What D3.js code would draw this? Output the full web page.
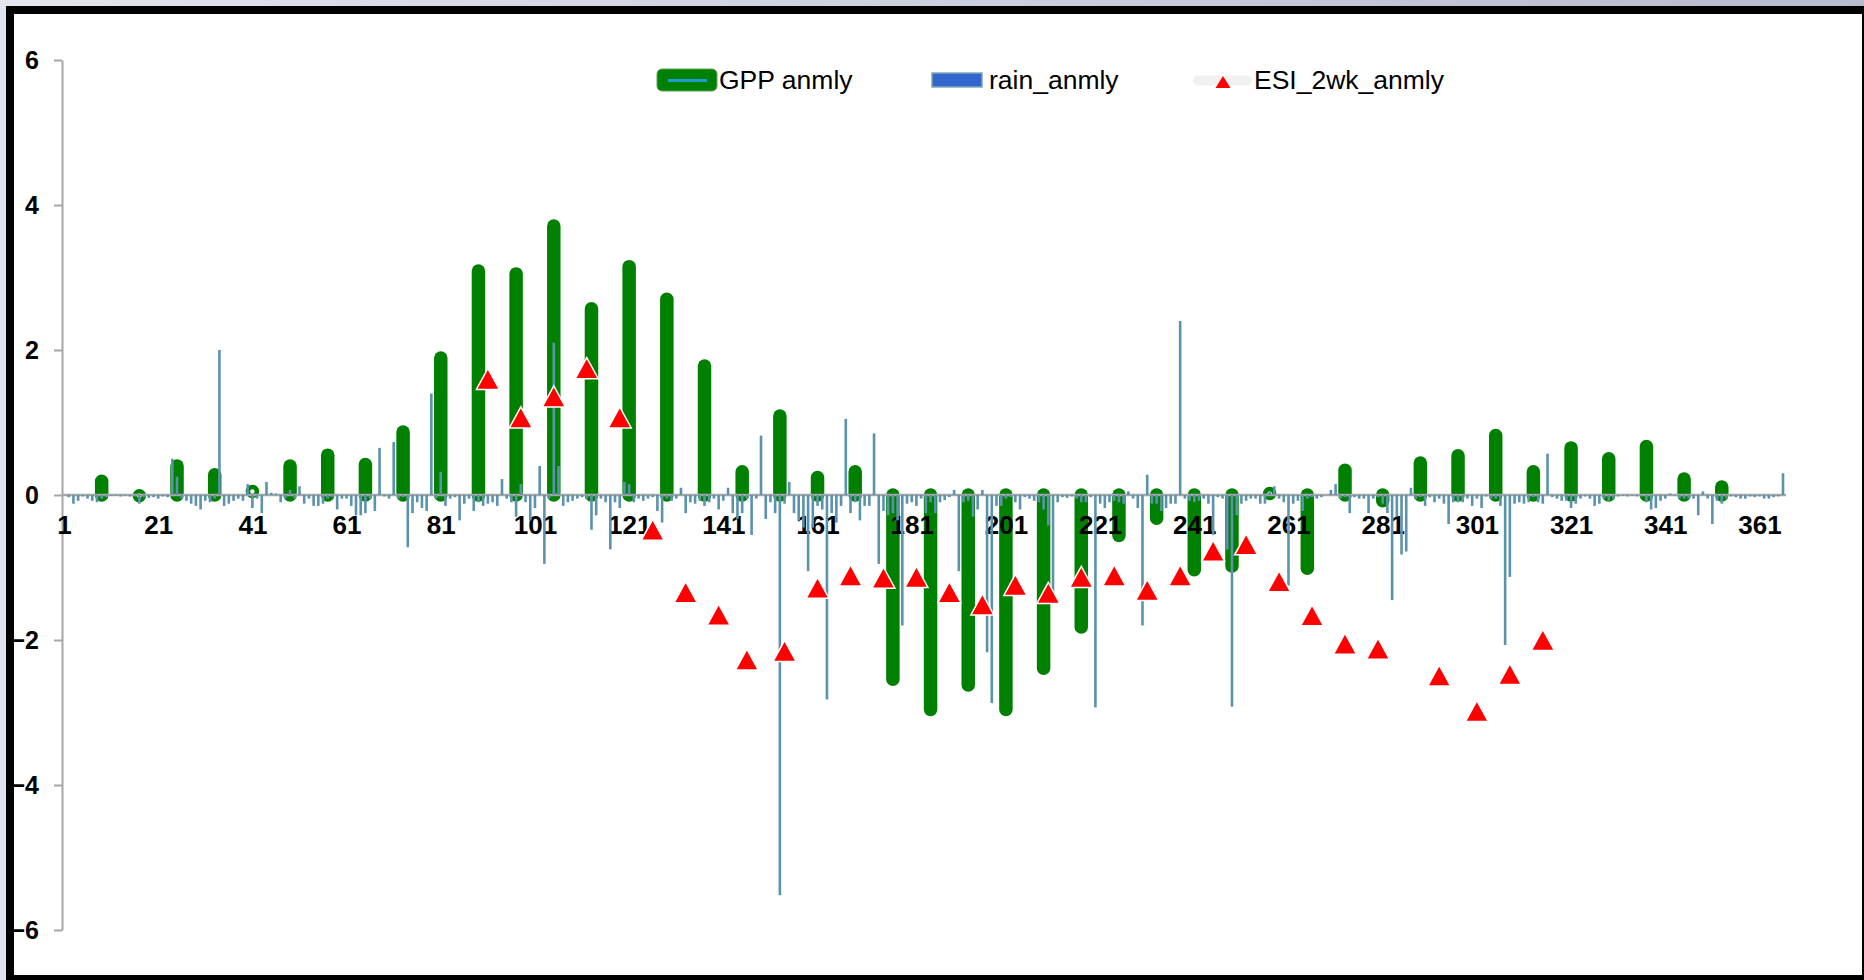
<!DOCTYPE html>
<html>
<head>
<meta charset="utf-8">
<script src="https://cdn.jsdelivr.net/npm/d3@7"></script>
<style>
  html, body { margin: 0; padding: 0; background: #e1e4ee; overflow: hidden; }
  svg { display: block; }
</style>
</head>
<body>
<svg id="chart" width="1864" height="980"></svg>
<script>
// ---- data ---------------------------------------------------------------

// 8-day GPP anomaly (composite start day -> anomaly)
const gppDays = [9, 17, 25, 33, 41, 49, 57, 65, 73, 81, 89, 97, 105, 113, 121, 129, 137, 145,
  153, 161, 169, 177, 185, 193, 201, 209, 217, 225, 233, 241, 249, 257, 265, 273, 281, 289,
  297, 305, 313, 321, 329, 337, 345, 353];
const gppAnmly = [0.19, -0.01, 0.40, 0.28, 0.05, 0.40, 0.55, 0.42, 0.87, 1.89, 3.09, 3.05,
  3.71, 2.57, 3.15, 2.70, 1.78, 0.32, 1.09, 0.24, 0.32, -2.54, -2.96, -2.62, -2.96, -2.39,
  -1.82, -0.56, -0.32, -1.03, -0.98, 0.02, -1.01, 0.34, -0.08, 0.44, 0.54, 0.82, 0.32, 0.65,
  0.50, 0.67, 0.22, 0.11];

// daily rainfall anomaly, day 1 .. 366
const rainAnmly = [
  0, -0.03, -0.12, -0.08, -0.02, -0.05, -0.08, -0.1, -0.05, -0.03,          // 1-10
  -0.01, -0.01, -0.02, -0.01, -0.02, -0.01, -0.12, -0.03, -0.04, -0.03,     // 11-20
  -0.05, -0.02, -0.03, 0.5, 0.25, -0.05, -0.08, -0.12, -0.15, -0.2,         // 21-30
  -0.08, -0.1, -0.05, 2.0, -0.15, -0.12, -0.08, -0.05, -0.08, 0.15,         // 31-40
  -0.18, -0.05, -0.25, 0.18, 0.03, 0.02, -0.1, -0.05, 0.07, -0.05,          // 41-50
  0.12, -0.12, -0.05, -0.15, -0.15, -0.12, -0.05, -0.03, -0.2, -0.05,       // 51-60
  -0.05, -0.15, -0.28, -0.28, -0.25, -0.05, -0.22, 0.65, -0.02, -0.05,      // 61-70
  0.73, -0.05, -0.03, -0.72, -0.25, -0.1, -0.18, -0.22, 1.4, -0.05,         // 71-80
  0.32, -0.15, -0.05, -0.03, -0.35, -0.12, -0.05, -0.22, -0.1, -0.15,       // 81-90
  -0.12, -0.1, -0.15, 0.22, -0.05, -0.1, -0.3, 0.15, -0.1, -0.35,           // 91-100
  -0.18, 0.4, -0.95, -0.05, 2.1, 0.4, -0.15, -0.1, -0.08, -0.05,            // 101-110
  -0.03, -0.05, -0.48, -0.28, -0.05, -0.1, -0.75, -0.1, -0.18, 0.18,        // 111-120
  0.15, -0.1, -0.05, -0.08, -0.05, -0.03, -0.22, -0.38, -0.05, -0.08,       // 121-130
  -0.05, 0.1, -0.25, -0.1, -0.12, -0.08, -0.15, -0.1, -0.05, -0.2,          // 131-140
  -0.08, 0.1, -0.25, -0.33, -0.25, -0.05, -0.55, -0.05, 0.82, -0.33,        // 141-150
  -0.1, -0.25, -5.52, -0.12, 0.18, -0.25, -0.35, -0.45, -1.05, -0.45,       // 151-160
  -0.15, -0.2, -2.82, -0.25, -0.38, -0.15, 1.05, -0.25, -0.1, -0.35,        // 161-170
  -0.15, -0.15, 0.85, -0.95, -0.22, -0.28, -0.25, -0.35, -1.8, -0.12,       // 171-180
  -0.1, -0.15, -0.05, -0.25, -0.1, -0.25, -0.1, -0.07, -0.03, 0.07,         // 181-190
  -1.05, -0.1, -0.08, -0.3, -0.2, 0.07, -2.17, -2.87, -0.15, -0.15,         // 191-200
  -0.05, -0.03, -0.1, -0.2, -0.03, -0.05, -0.08, -0.1, -0.2, -0.42,         // 201-210
  -1.5, -0.1, -0.03, -0.04, -0.02, -0.05, -0.1, -0.1, -0.03, -2.93,         // 211-220
  -0.12, -0.18, -0.1, -0.08, -0.1, -0.12, 0.05, -0.05, -0.18, -1.8,         // 221-230
  0.28, -0.12, -0.12, -0.22, -0.18, -0.12, -0.12, 2.4, -0.05, -0.08,        // 231-240
  -0.1, -0.08, -0.05, -0.12, -0.55, -0.03, -0.05, -0.75, -2.92, -0.28,      // 241-250
  -0.12, -0.08, -0.05, -0.05, -0.12, -0.12, 0.05, 0.12, -0.05, -0.1,        // 251-260
  -1.25, -0.12, -0.08, -0.22, -0.05, -0.03, -0.05, -0.03, 0, 0.07,          // 261-270
  0.15, -0.05, -0.03, -0.25, -0.03, -0.05, -0.05, -0.25, -0.05, -0.03,      // 271-280
  -0.12, -0.25, -1.45, -0.3, -0.82, -0.78, 0.1, -0.05, -0.03, -0.15,        // 281-290
  -0.03, -0.1, -0.05, -0.12, -0.4, -0.1, -0.1, -0.1, -0.05, -0.15,          // 291-300
  -0.05, -0.18, -0.02, -0.05, -0.05, -0.15, -2.07, -1.13, -0.12, -0.1,      // 301-310
  -0.12, -0.1, -0.03, -0.1, -0.12, 0.57, -0.03, -0.05, -0.08, -0.08,        // 311-320
  -0.18, -0.12, -0.05, -0.02, -0.05, -0.15, -0.12, -0.05, -0.08, -0.05,     // 321-330
  -0.02, -0.01, -0.02, -0.01, -0.02, -0.01, -0.1, -0.2, -0.18, -0.08,       // 331-340
  -0.05, 0.02, -0.01, -0.05, -0.05, -0.05, -0.05, -0.28, 0.05, -0.05,       // 341-350
  -0.4, -0.08, -0.12, -0.05, -0.02, -0.03, -0.05, -0.05, -0.02, -0.03,      // 351-360
  -0.02, -0.05, -0.05, -0.03, -0.02, 0.3                                    // 361-366
];

// 2-week ESI anomaly (weekly)
const esiDays = [91, 98, 105, 112, 119, 126, 133, 140, 146, 154, 161, 168, 175, 182, 189, 196,
  203, 210, 217, 224, 231, 238, 245, 252, 259, 266, 273, 280, 293, 301, 308, 315];
const esiAnmly = [1.60, 1.07, 1.36, 1.75, 1.07, -0.48, -1.34, -1.65, -2.27, -2.15, -1.28,
  -1.11, -1.14, -1.13, -1.34, -1.51, -1.24, -1.35, -1.13, -1.11, -1.31, -1.11, -0.77, -0.68,
  -1.19, -1.66, -2.05, -2.12, -2.49, -2.98, -2.47, -2.00];

// axis ticks
const xTickDays = [1, 21, 41, 61, 81, 101, 121, 141, 161, 181, 201, 221, 241, 261, 281, 301, 321, 341, 361];
const yTickValues = [-6, -4, -2, 0, 2, 4, 6];

// ---- drawing ------------------------------------------------------------

const W = 1864, H = 980;
const FONT = "'Liberation Sans', Arial, Helvetica, sans-serif";
const GREEN = "#008000", RAIN = "#5b93ad", AXIS = "#a6a6a6";

const svg = d3.select("#chart");

// window frame
const defs = svg.append("defs");
const band = defs.append("linearGradient").attr("id", "topBand");
band.append("stop").attr("offset", "0%").attr("stop-color", "#e2e5ee");
band.append("stop").attr("offset", "100%").attr("stop-color", "#b8bacd");
svg.append("rect").attr("width", W).attr("height", H).attr("fill", "#e1e4ee");
svg.append("rect").attr("width", W).attr("height", 6).attr("fill", "url(#topBand)");
svg.append("rect").attr("x", 6).attr("y", 6).attr("width", W - 6).attr("height", H - 6).attr("fill", "#000");
svg.append("rect").attr("x", 14).attr("y", 14).attr("width", 1848).attr("height", 961).attr("fill", "#fff");

const x = d3.scaleLinear().domain([1, 366]).range([64, 1783]);
const y = d3.scaleLinear().domain([-6, 6]).range([930, 60]);

// y axis
const gy = svg.append("g").attr("transform", "translate(62,0)")
  .call(d3.axisLeft(y).tickValues(yTickValues).tickSize(8).tickPadding(15).tickSizeOuter(0));
gy.select(".domain").attr("stroke", AXIS).attr("stroke-width", 2);
gy.selectAll(".tick line").attr("stroke", AXIS).attr("stroke-width", 2);
gy.selectAll(".tick text").attr("font-family", FONT).attr("font-size", 25)
  .attr("font-weight", "bold").attr("fill", "#000");

// GPP anomaly: thick round-capped bars, near-zero values as rings
const gppData = gppDays.map((d, i) => ({ day: d, v: gppAnmly[i] }));
const gppG = svg.append("g");
gppG.selectAll("line")
  .data(gppData.filter(d => Math.abs(d.v) > 0.05))
  .join("line")
  .attr("x1", d => x(d.day)).attr("x2", d => x(d.day))
  .attr("y1", y(0)).attr("y2", d => y(d.v))
  .attr("stroke", GREEN).attr("stroke-width", 13.5).attr("stroke-linecap", "round");
gppG.selectAll("circle")
  .data(gppData.filter(d => Math.abs(d.v) <= 0.05))
  .join("circle")
  .attr("cx", d => x(d.day)).attr("cy", d => y(d.v)).attr("r", 4.5)
  .attr("fill", "#fff").attr("stroke", GREEN).attr("stroke-width", 4.5);

// x axis along zero
const gx = svg.append("g").attr("transform", `translate(0,${y(0)})`)
  .call(d3.axisBottom(x).tickValues(xTickDays).tickSize(0).tickPadding(21).tickFormat(d3.format("d")));
gx.select(".domain").remove();
gx.selectAll(".tick text").attr("font-family", FONT).attr("font-size", 26)
  .attr("font-weight", "bold").attr("fill", "#000");
svg.append("line")
  .attr("x1", 62).attr("x2", x(366) + 3)
  .attr("y1", y(0)).attr("y2", y(0))
  .attr("stroke", AXIS).attr("stroke-width", 2.5);

// daily rain anomaly
const rainData = rainAnmly.map((v, i) => ({ day: i + 1, v }));
svg.append("g").selectAll("rect")
  .data(rainData)
  .join("rect")
  .attr("x", d => x(d.day) - 1.3)
  .attr("width", 2.6)
  .attr("y", d => Math.min(y(0), y(d.v)))
  .attr("height", d => Math.abs(y(d.v) - y(0)))
  .attr("fill", RAIN);

// ESI anomaly triangles
const tri = (cx, cy, w, h) => `M${cx},${cy - h / 2}L${cx + w / 2},${cy + h / 2}L${cx - w / 2},${cy + h / 2}Z`;
const esiData = esiDays.map((d, i) => ({ day: d, v: esiAnmly[i] }));
svg.append("g").selectAll("path")
  .data(esiData)
  .join("path")
  .attr("d", d => tri(x(d.day), y(d.v), 23, 21))
  .attr("fill", "#ff0000").attr("stroke", "#fff").attr("stroke-width", 1.5)
  .attr("stroke-linejoin", "miter");

// legend
const lg = svg.append("g").attr("font-family", FONT).attr("font-size", 26.5).attr("fill", "#000");
lg.append("rect").attr("x", 657).attr("y", 69).attr("width", 60).attr("height", 22).attr("rx", 5)
  .attr("fill", GREEN).attr("stroke", "#5aa55a").attr("stroke-width", 1);
lg.append("line").attr("x1", 668).attr("x2", 707).attr("y1", 80.5).attr("y2", 80.5)
  .attr("stroke", "#1f9bd4").attr("stroke-width", 3);
lg.append("text").attr("x", 719).attr("y", 89).text("GPP anmly");

lg.append("rect").attr("x", 932).attr("y", 73).attr("width", 50).attr("height", 14)
  .attr("fill", "#3366cc").attr("stroke", "#7fa7b8").attr("stroke-width", 1.5);
lg.append("text").attr("x", 989).attr("y", 89).text("rain_anmly");

lg.append("line").attr("x1", 1198).attr("x2", 1247).attr("y1", 80.5).attr("y2", 80.5)
  .attr("stroke", "#f1f1f1").attr("stroke-width", 10).attr("stroke-linecap", "round");
lg.append("path").attr("d", tri(1223, 82, 15, 12)).attr("fill", "#ff0000");
lg.append("text").attr("x", 1254).attr("y", 89).text("ESI_2wk_anmly");
</script>
</body>
</html>
